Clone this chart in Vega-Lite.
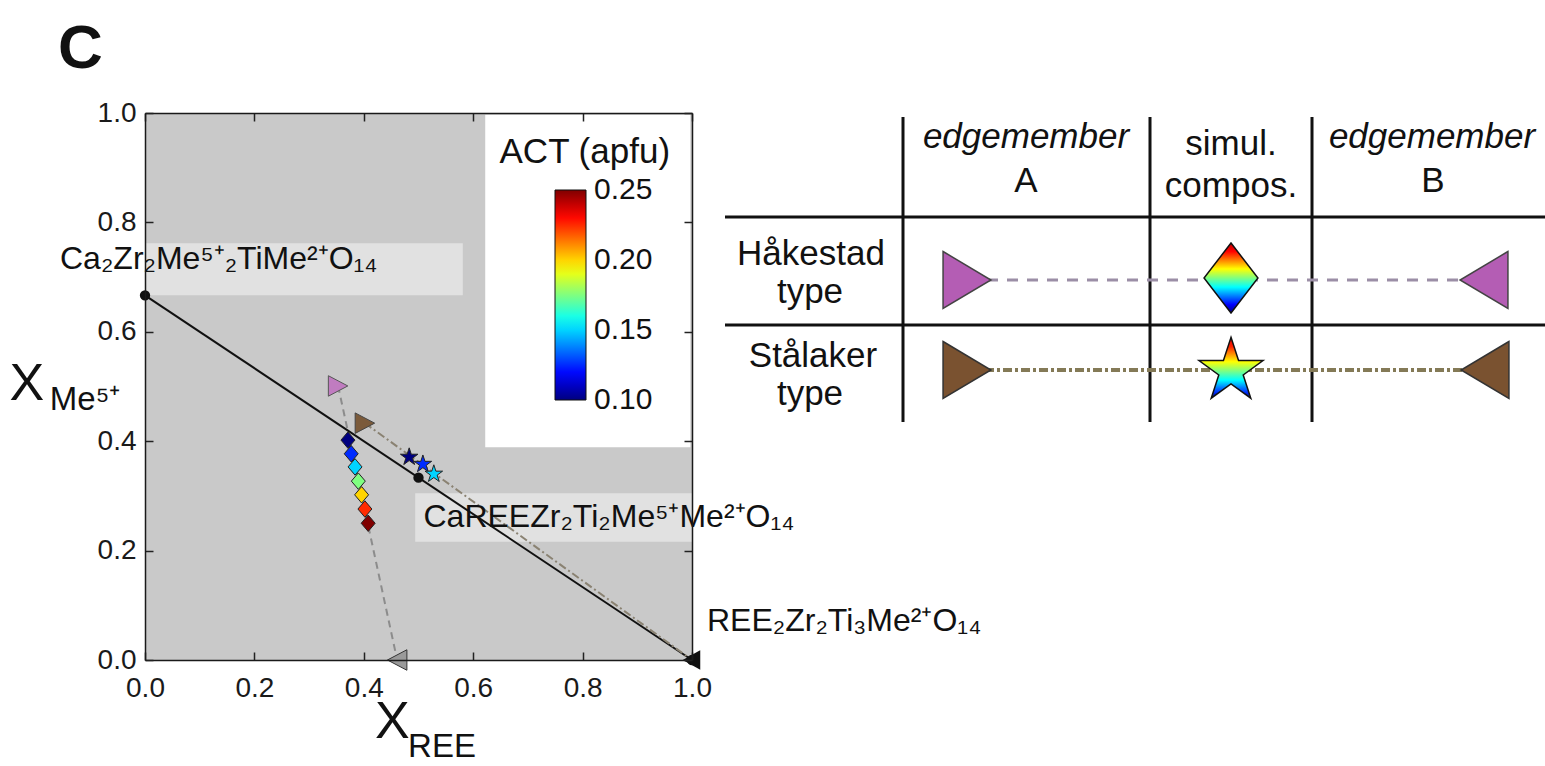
{
  "$schema": "https://vega.github.io/schema/vega-lite/v6.json",
  "background": "white",
  "padding": {"left": 9, "top": 18, "right": 0, "bottom": 0},
  "config": {"view": {"stroke": null}, "font": "Liberation Sans"},
  "datasets": {
    "ideal": [
      {"x": 0, "y": 0.6667, "formula": "Ca₂Zr₂Me⁵⁺₂TiMe²⁺O₁₄"},
      {"x": 0.5, "y": 0.3333, "formula": "CaREEZr₂Ti₂Me⁵⁺Me²⁺O₁₄"},
      {"x": 1, "y": 0, "formula": "REE₂Zr₂Ti₃Me²⁺O₁₄"}
    ],
    "tieLines": [
      {"line": "ideal", "x": 0, "y": 0.6667},
      {"line": "ideal", "x": 1, "y": 0},
      {"line": "Håkestad", "x": 0.353, "y": 0.501},
      {"line": "Håkestad", "x": 0.461, "y": 0},
      {"line": "Stålaker", "x": 0.402, "y": 0.433},
      {"line": "Stålaker", "x": 1, "y": 0}
    ],
    "endmembers": [
      {"series": "Håkestad", "member": "A", "x": 0.353, "y": 0.501},
      {"series": "Håkestad", "member": "B", "x": 0.461, "y": 0},
      {"series": "Stålaker", "member": "A", "x": 0.402, "y": 0.433},
      {"series": "Stålaker", "member": "B", "x": 1, "y": 0}
    ],
    "hakSim": [
      {"x": 0.371, "y": 0.402, "ACT": 0.1},
      {"x": 0.377, "y": 0.377, "ACT": 0.125},
      {"x": 0.384, "y": 0.353, "ACT": 0.15},
      {"x": 0.390, "y": 0.327, "ACT": 0.175},
      {"x": 0.396, "y": 0.302, "ACT": 0.2},
      {"x": 0.402, "y": 0.276, "ACT": 0.225},
      {"x": 0.408, "y": 0.250, "ACT": 0.25}
    ],
    "staSim": [
      {"x": 0.483, "y": 0.371, "ACT": 0.1},
      {"x": 0.508, "y": 0.358, "ACT": 0.125},
      {"x": 0.528, "y": 0.340, "ACT": 0.15}
    ],
    "labelBoxes": [
      {"x0": -0.174, "x1": 0.581, "y0": 0.667, "y1": 0.762},
      {"x0": 0.494, "x1": 1.37, "y0": 0.216, "y1": 0.305}
    ],
    "colorbarBox": [
      {"x0": 0.622, "x1": 0.997, "y0": 0.389, "y1": 0.997}
    ],
    "tableRules": [
      {"x0": 1.78, "x1": 1.78, "y0": 0.04, "y1": 3.09},
      {"x0": 4.25, "x1": 4.25, "y0": 0.04, "y1": 3.09},
      {"x0": 5.87, "x1": 5.87, "y0": 0.04, "y1": 3.09},
      {"x0": 0, "x1": 8.2, "y0": 1.04, "y1": 1.04},
      {"x0": 0, "x1": 8.2, "y0": 2.12, "y1": 2.12}
    ],
    "legendMembers": [
      {"series": "Håkestad", "member": "A", "x": 2.42, "y": 1.67},
      {"series": "Håkestad", "member": "B", "x": 7.59, "y": 1.67},
      {"series": "Stålaker", "member": "A", "x": 2.42, "y": 2.57},
      {"series": "Stålaker", "member": "B", "x": 7.60, "y": 2.57}
    ],
    "legendSim": [
      {"series": "Håkestad", "x": 5.06, "y": 1.65},
      {"series": "Stålaker", "x": 5.06, "y": 2.58}
    ],
    "tableItalic": [
      {"x": 3.01, "y": 0.35, "t": "edgemember"},
      {"x": 7.07, "y": 0.35, "t": "edgemember"}
    ],
    "tableText": [
      {"x": 3.01, "y": 0.79, "t": "A"},
      {"x": 7.08, "y": 0.79, "t": "B"},
      {"x": 5.06, "y": 0.42, "t": "simul."},
      {"x": 5.06, "y": 0.84, "t": "compos."},
      {"x": 0.86, "y": 1.52, "t": "Håkestad"},
      {"x": 0.85, "y": 1.90, "t": "type"},
      {"x": 0.88, "y": 2.54, "t": "Stålaker"},
      {"x": 0.85, "y": 2.92, "t": "type"}
    ]
  },
  "bounds": "flush",
  "spacing": 33,
  "resolve": {"scale": {"x": "independent", "y": "independent"}},
  "hconcat": [
    {
      "width": 547,
      "height": 547,
      "view": {"fill": "#c9c9c9", "stroke": null},
      "resolve": {"axis": {"x": "independent", "y": "independent"}},
      "layer": [
        {
          "layer": [
            {
              "data": {"name": "labelBoxes"},
              "mark": {"type": "rect", "fill": "white", "fillOpacity": 0.45},
              "encoding": {
                "x": {"field": "x0", "type": "quantitative",
                  "scale": {"domain": [0, 1], "nice": false, "zero": false},
                  "axis": {"title": null, "values": [0, 0.2, 0.4, 0.6, 0.8, 1], "format": ".1f", "labelFlush": false,
                    "labelFontSize": 28, "labelFont": "Liberation Sans", "labelColor": "#1a1a1a",
                    "domain": true, "domainColor": "#1a1a1a", "domainWidth": 1.5, "grid": false,
                    "ticks": true, "tickSize": -8, "tickWidth": 1.5, "tickColor": "#222", "labelPadding": 22, "zindex": 1}},
                "x2": {"field": "x1"},
                "y": {"field": "y0", "type": "quantitative",
                  "scale": {"domain": [0, 1], "nice": false, "zero": false},
                  "axis": {"title": null, "values": [0, 0.2, 0.4, 0.6, 0.8, 1], "format": ".1f", "labelFlush": false,
                    "labelFontSize": 28, "labelFont": "Liberation Sans", "labelColor": "#1a1a1a",
                    "domain": true, "domainColor": "#1a1a1a", "domainWidth": 1.5, "grid": false,
                    "ticks": true, "tickSize": -8, "tickWidth": 1.5, "tickColor": "#222", "labelPadding": 17, "zindex": 1}},
                "y2": {"field": "y1"}
              }
            },
            {
              "data": {"name": "colorbarBox"},
              "mark": {"type": "rect", "fill": "white"},
              "encoding": {
                "x": {"field": "x0", "type": "quantitative"},
                "x2": {"field": "x1"},
                "y": {"field": "y0", "type": "quantitative"},
                "y2": {"field": "y1"}
              }
            },
            {
              "data": {"name": "tieLines"},
              "transform": [{"filter": "datum.line === 'ideal'"}],
              "mark": {"type": "line", "stroke": "#111", "strokeWidth": 2},
              "encoding": {
                "x": {"field": "x", "type": "quantitative"},
                "y": {"field": "y", "type": "quantitative"}
              }
            },
            {
              "data": {"name": "tieLines"},
              "transform": [{"filter": "datum.line === 'Håkestad'"}],
              "mark": {"type": "line", "stroke": "#8c8c8c", "strokeWidth": 2, "strokeDash": [7, 5]},
              "encoding": {
                "x": {"field": "x", "type": "quantitative"},
                "y": {"field": "y", "type": "quantitative"}
              }
            },
            {
              "data": {"name": "tieLines"},
              "transform": [{"filter": "datum.line === 'Stålaker'"}],
              "mark": {"type": "line", "stroke": "#8a8272", "strokeWidth": 2, "strokeDash": [8, 3, 2, 3]},
              "encoding": {
                "x": {"field": "x", "type": "quantitative"},
                "y": {"field": "y", "type": "quantitative"}
              }
            },
            {
              "data": {"name": "endmembers"},
              "transform": [{"filter": "datum.series === 'Stålaker' && datum.member === 'B'"}],
              "mark": {"type": "point", "shape": "M 0.9 -1 L -0.9 0 L 0.9 1 Z", "size": 260, "filled": true, "fill": "#111", "stroke": "#111", "opacity": 1},
              "encoding": {
                "x": {"field": "x", "type": "quantitative"},
                "y": {"field": "y", "type": "quantitative"}
              }
            },
            {
              "data": {"name": "ideal"},
              "mark": {"type": "point", "shape": "circle", "size": 70, "filled": true, "fill": "#111", "stroke": "#111", "opacity": 1},
              "encoding": {
                "x": {"field": "x", "type": "quantitative"},
                "y": {"field": "y", "type": "quantitative"}
              }
            },
            {
              "data": {"name": "endmembers"},
              "transform": [{"filter": "datum.series === 'Håkestad' && datum.member === 'A'"}],
              "mark": {"type": "point", "shape": "M -0.95 -1 L 0.95 0 L -0.95 1 Z", "size": 420, "filled": true, "fill": "#c07cc0", "stroke": "#555", "strokeWidth": 1, "opacity": 1},
              "encoding": {
                "x": {"field": "x", "type": "quantitative"},
                "y": {"field": "y", "type": "quantitative"}
              }
            },
            {
              "data": {"name": "endmembers"},
              "transform": [{"filter": "datum.series === 'Stålaker' && datum.member === 'A'"}],
              "mark": {"type": "point", "shape": "M -0.95 -1 L 0.95 0 L -0.95 1 Z", "size": 420, "filled": true, "fill": "#7b5a3a", "stroke": "#444", "strokeWidth": 1, "opacity": 1},
              "encoding": {
                "x": {"field": "x", "type": "quantitative"},
                "y": {"field": "y", "type": "quantitative"}
              }
            },
            {
              "data": {"name": "endmembers"},
              "transform": [{"filter": "datum.series === 'Håkestad' && datum.member === 'B'"}],
              "mark": {"type": "point", "shape": "M 0.95 -1 L -0.95 0 L 0.95 1 Z", "size": 420, "filled": true, "fill": "#9a9a9a", "stroke": "#333", "strokeWidth": 1, "opacity": 1},
              "encoding": {
                "x": {"field": "x", "type": "quantitative"},
                "y": {"field": "y", "type": "quantitative"}
              }
            },
            {
              "data": {"name": "hakSim"},
              "mark": {"type": "point", "shape": "M 0 -1 L 0.85 0 L 0 1 L -0.85 0 Z", "size": 270, "filled": true, "stroke": "#222", "strokeWidth": 1, "opacity": 1},
              "encoding": {
                "x": {"field": "x", "type": "quantitative"},
                "y": {"field": "y", "type": "quantitative"},
                "fill": {"field": "ACT", "type": "quantitative",
                  "scale": {"domain": [0.0999, 0.11875, 0.15625, 0.19375, 0.23125, 0.2501],
                    "range": ["#00007f", "#0000ff", "#00ffff", "#ffff00", "#ff0000", "#7f0000"], "interpolate": "rgb"},
                  "legend": {"title": null, "orient": "none", "legendX": 410, "legendY": 77, "direction": "vertical",
                    "gradientLength": 210, "gradientThickness": 31, "gradientStrokeColor": "#111", "gradientStrokeWidth": 1,
                    "values": [0.1, 0.15, 0.2, 0.25], "format": ".2f", "labelFontSize": 30, "labelFont": "Liberation Sans",
                    "labelColor": "#111", "labelOffset": 8, "labelOverlap": false, "labelBaseline": "middle", "padding": 0}}
              }
            },
            {
              "data": {"name": "staSim"},
              "mark": {"type": "point", "shape": "M 0 -1 L 0.2245 -0.309 L 0.951 -0.309 L 0.363 0.118 L 0.588 0.809 L 0 0.382 L -0.588 0.809 L -0.363 0.118 L -0.951 -0.309 L -0.2245 -0.309 Z", "size": 340, "filled": true, "stroke": "#222", "strokeWidth": 1, "opacity": 1},
              "encoding": {
                "x": {"field": "x", "type": "quantitative"},
                "y": {"field": "y", "type": "quantitative"},
                "fill": {"field": "ACT", "type": "quantitative"}
              }
            },
            {
              "data": {"name": "ideal"},
              "transform": [{"filter": "datum.x === 0"}],
              "mark": {"type": "text", "align": "left", "baseline": "alphabetic", "dx": -85, "dy": -26, "fontSize": 32, "font": "Liberation Sans", "color": "#111"},
              "encoding": {
                "x": {"field": "x", "type": "quantitative"},
                "y": {"field": "y", "type": "quantitative"},
                "text": {"field": "formula"}
              }
            },
            {
              "data": {"name": "ideal"},
              "transform": [{"filter": "datum.x === 0.5"}],
              "mark": {"type": "text", "align": "left", "baseline": "alphabetic", "dx": 5, "dy": 49, "fontSize": 32, "font": "Liberation Sans", "color": "#111"},
              "encoding": {
                "x": {"field": "x", "type": "quantitative"},
                "y": {"field": "y", "type": "quantitative"},
                "text": {"field": "formula"}
              }
            },
            {
              "data": {"name": "ideal"},
              "transform": [{"filter": "datum.x === 1"}],
              "mark": {"type": "text", "align": "left", "baseline": "alphabetic", "dx": 15, "dy": -29, "fontSize": 32, "font": "Liberation Sans", "color": "#111"},
              "encoding": {
                "x": {"field": "x", "type": "quantitative"},
                "y": {"field": "y", "type": "quantitative"},
                "text": {"field": "formula"}
              }
            },
            {
              "data": {"values": [{"x": 0.452, "y": -0.143, "t": "X"}]},
              "mark": {"type": "text", "align": "center", "baseline": "alphabetic", "fontSize": 52, "font": "Liberation Sans", "color": "#111"},
              "encoding": {
                "x": {"field": "x", "type": "quantitative"},
                "y": {"field": "y", "type": "quantitative"},
                "text": {"field": "t"}
              }
            },
            {
              "data": {"values": [{"x": 0.481, "y": -0.177, "t": "REE"}]},
              "mark": {"type": "text", "align": "left", "baseline": "alphabetic", "fontSize": 33, "font": "Liberation Sans", "color": "#111"},
              "encoding": {
                "x": {"field": "x", "type": "quantitative"},
                "y": {"field": "y", "type": "quantitative"},
                "text": {"field": "t"}
              }
            },
            {
              "data": {"values": [{"x": -0.216, "y": 0.475, "t": "X"}]},
              "mark": {"type": "text", "align": "center", "baseline": "alphabetic", "fontSize": 52, "font": "Liberation Sans", "color": "#111"},
              "encoding": {
                "x": {"field": "x", "type": "quantitative"},
                "y": {"field": "y", "type": "quantitative"},
                "text": {"field": "t"}
              }
            },
            {
              "data": {"values": [{"x": -0.174, "y": 0.457, "t": "Me⁵⁺"}]},
              "mark": {"type": "text", "align": "left", "baseline": "alphabetic", "fontSize": 33, "font": "Liberation Sans", "color": "#111"},
              "encoding": {
                "x": {"field": "x", "type": "quantitative"},
                "y": {"field": "y", "type": "quantitative"},
                "text": {"field": "t"}
              }
            },
            {
              "data": {"values": [{"x": -0.159, "y": 1.082, "t": "C"}]},
              "mark": {"type": "text", "align": "left", "baseline": "alphabetic", "fontSize": 62, "fontWeight": "bold", "font": "Liberation Sans", "color": "#111"},
              "encoding": {
                "x": {"field": "x", "type": "quantitative"},
                "y": {"field": "y", "type": "quantitative"},
                "text": {"field": "t"}
              }
            },
            {
              "data": {"values": [{"x": 0.804, "y": 0.909, "t": "ACT (apfu)"}]},
              "mark": {"type": "text", "align": "center", "baseline": "alphabetic", "fontSize": 35, "font": "Liberation Sans", "color": "#111"},
              "encoding": {
                "x": {"field": "x", "type": "quantitative"},
                "y": {"field": "y", "type": "quantitative"},
                "text": {"field": "t"}
              }
            }
          ]
        },
        {
          "data": {"name": "ideal"},
          "mark": {"type": "point", "opacity": 0},
          "encoding": {
            "x": {"field": "x", "type": "quantitative",
              "axis": {"orient": "top", "title": null, "labels": false, "values": [0, 0.2, 0.4, 0.6, 0.8, 1],
                "domain": true, "domainColor": "#1a1a1a", "domainWidth": 1.5, "grid": false,
                "ticks": true, "tickSize": -8, "tickWidth": 1.5, "tickColor": "#222", "zindex": 1}},
            "y": {"field": "y", "type": "quantitative",
              "axis": {"orient": "right", "title": null, "labels": false, "values": [0, 0.2, 0.4, 0.6, 0.8, 1],
                "domain": true, "domainColor": "#1a1a1a", "domainWidth": 1.5, "grid": false,
                "ticks": true, "tickSize": -8, "tickWidth": 1.5, "tickColor": "#222", "zindex": 1}}
          }
        }
      ]
    },
    {
      "width": 820,
      "height": 325,
      "view": {"stroke": null},
      "layer": [
        {
          "data": {"name": "tableRules"},
          "mark": {"type": "rule", "stroke": "#111", "strokeWidth": 3},
          "encoding": {
            "x": {"field": "x0", "type": "quantitative", "scale": {"domain": [0, 8.2], "nice": false, "zero": false}, "axis": null},
            "x2": {"field": "x1"},
            "y": {"field": "y0", "type": "quantitative", "scale": {"domain": [0, 3.25], "nice": false, "zero": false, "reverse": true}, "axis": null},
            "y2": {"field": "y1"}
          }
        },
        {
          "data": {"name": "legendMembers"},
          "transform": [{"filter": "datum.series === 'Håkestad'"}],
          "mark": {"type": "line", "stroke": "#9b8ea6", "strokeWidth": 3, "strokeDash": [11, 9]},
          "encoding": {
            "x": {"field": "x", "type": "quantitative"},
            "y": {"field": "y", "type": "quantitative"}
          }
        },
        {
          "data": {"name": "legendMembers"},
          "transform": [{"filter": "datum.series === 'Stålaker'"}],
          "mark": {"type": "line", "stroke": "#847a57", "strokeWidth": 4, "strokeDash": [9, 3, 3, 3]},
          "encoding": {
            "x": {"field": "x", "type": "quantitative"},
            "y": {"field": "y", "type": "quantitative"}
          }
        },
        {
          "data": {"name": "legendMembers"},
          "transform": [{"filter": "datum.series === 'Håkestad' && datum.member === 'A'"}],
          "mark": {"type": "point", "shape": "M -0.84 -1 L 0.84 0 L -0.84 1 Z", "size": 3249, "filled": true, "fill": "#b45db4", "stroke": "#444", "strokeWidth": 1.5, "opacity": 1},
          "encoding": {"x": {"field": "x", "type": "quantitative"}, "y": {"field": "y", "type": "quantitative"}}
        },
        {
          "data": {"name": "legendMembers"},
          "transform": [{"filter": "datum.series === 'Håkestad' && datum.member === 'B'"}],
          "mark": {"type": "point", "shape": "M 0.84 -1 L -0.84 0 L 0.84 1 Z", "size": 3249, "filled": true, "fill": "#b45db4", "stroke": "#444", "strokeWidth": 1.5, "opacity": 1},
          "encoding": {"x": {"field": "x", "type": "quantitative"}, "y": {"field": "y", "type": "quantitative"}}
        },
        {
          "data": {"name": "legendMembers"},
          "transform": [{"filter": "datum.series === 'Stålaker' && datum.member === 'A'"}],
          "mark": {"type": "point", "shape": "M -0.84 -1 L 0.84 0 L -0.84 1 Z", "size": 3249, "filled": true, "fill": "#7a5230", "stroke": "#333", "strokeWidth": 1.5, "opacity": 1},
          "encoding": {"x": {"field": "x", "type": "quantitative"}, "y": {"field": "y", "type": "quantitative"}}
        },
        {
          "data": {"name": "legendMembers"},
          "transform": [{"filter": "datum.series === 'Stålaker' && datum.member === 'B'"}],
          "mark": {"type": "point", "shape": "M 0.84 -1 L -0.84 0 L 0.84 1 Z", "size": 3249, "filled": true, "fill": "#7a5230", "stroke": "#333", "strokeWidth": 1.5, "opacity": 1},
          "encoding": {"x": {"field": "x", "type": "quantitative"}, "y": {"field": "y", "type": "quantitative"}}
        },
        {
          "data": {"name": "legendSim"},
          "transform": [{"filter": "datum.series === 'Håkestad'"}],
          "mark": {"type": "point", "shape": "M 0 -1 L 0.77 0 L 0 1 L -0.77 0 Z", "size": 4900, "filled": true, "stroke": "#111", "strokeWidth": 1.5, "opacity": 1,
            "fill": {"gradient": "linear", "x1": 0, "y1": 0, "x2": 0, "y2": 1, "stops": [
              {"offset": 0, "color": "#c00000"}, {"offset": 0.12, "color": "#ff0000"}, {"offset": 0.37, "color": "#ffff00"},
              {"offset": 0.5, "color": "#80ff80"}, {"offset": 0.63, "color": "#00ffff"}, {"offset": 0.88, "color": "#0000ff"},
              {"offset": 1, "color": "#00007f"}]}},
          "encoding": {"x": {"field": "x", "type": "quantitative"}, "y": {"field": "y", "type": "quantitative"}}
        },
        {
          "data": {"name": "legendSim"},
          "transform": [{"filter": "datum.series === 'Stålaker'"}],
          "mark": {"type": "point", "shape": "M 0 -1 L 0.2245 -0.309 L 0.951 -0.309 L 0.363 0.118 L 0.588 0.809 L 0 0.382 L -0.588 0.809 L -0.363 0.118 L -0.951 -0.309 L -0.2245 -0.309 Z", "size": 4530, "filled": true, "stroke": "#111", "strokeWidth": 1.5, "opacity": 1,
            "fill": {"gradient": "linear", "x1": 0, "y1": 0, "x2": 0, "y2": 1, "stops": [
              {"offset": 0, "color": "#e00000"}, {"offset": 0.15, "color": "#ff2000"}, {"offset": 0.4, "color": "#ffff00"},
              {"offset": 0.55, "color": "#80ff80"}, {"offset": 0.7, "color": "#00ffff"}, {"offset": 0.9, "color": "#0030ff"},
              {"offset": 1, "color": "#00007f"}]}},
          "encoding": {"x": {"field": "x", "type": "quantitative"}, "y": {"field": "y", "type": "quantitative"}}
        },
        {
          "data": {"name": "tableItalic"},
          "mark": {"type": "text", "align": "center", "baseline": "alphabetic", "fontSize": 35, "fontStyle": "italic", "font": "Liberation Sans", "color": "#111"},
          "encoding": {"x": {"field": "x", "type": "quantitative"}, "y": {"field": "y", "type": "quantitative"}, "text": {"field": "t"}}
        },
        {
          "data": {"name": "tableText"},
          "mark": {"type": "text", "align": "center", "baseline": "alphabetic", "fontSize": 35, "font": "Liberation Sans", "color": "#111"},
          "encoding": {"x": {"field": "x", "type": "quantitative"}, "y": {"field": "y", "type": "quantitative"}, "text": {"field": "t"}}
        }
      ]
    }
  ]
}
